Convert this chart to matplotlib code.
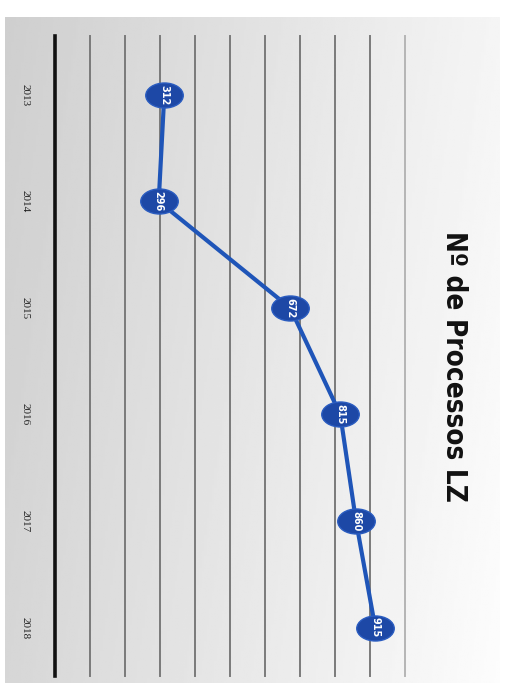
import numpy as np
import matplotlib
matplotlib.use('Agg')
import matplotlib.pyplot as plt
from matplotlib.path import Path
from matplotlib.transforms import Affine2D

years = [2013, 2014, 2015, 2016, 2017, 2018]
values = [312, 296, 672, 815, 860, 915]
title = 'Nº de Processos LZ'

fig = plt.figure(figsize=(5.10, 6.83), dpi=100)
fig.patch.set_facecolor('white')
ax = fig.add_axes([0.01, 0.0, 0.97, 0.975])

# grey panel with a soft gradient (scan look)
gx = np.linspace(0, 1, 200)
gy = np.linspace(0, 1, 200)
GX, GY = np.meshgrid(gx, gy)
grad = 0.81 + 0.15 * GX + 0.03 * GY
ax.imshow(grad, extent=[0, 1, 0, 1], transform=ax.transAxes, cmap='gray',
          vmin=0, vmax=1, aspect='auto', zorder=0)

ax.set_xlim(-143, 1271)
ax.set_ylim(2018.52, 2012.27)

# gridlines
for v in range(100, 1001, 100):
    c = '#7a7a7a' if v < 1000 else '#b5b5b5'
    ax.plot([v, v], [2012.45, 2018.45], color=c, lw=1.4, zorder=1)
ax.plot([0, 0], [2012.45, 2018.45], color='#111111', lw=2.6, zorder=1)

# line + markers
ell = Path.unit_circle().transformed(Affine2D().scale(1.5, 1.0))
ax.plot(values, years, color='#1f55b8', lw=3, zorder=2)
ax.plot(values, years, ls='none', marker=ell, markersize=27,
        markerfacecolor='#1d48a6', markeredgecolor='#2a5cc0', markeredgewidth=1, zorder=3)
for v, yr in zip(values, years):
    ax.text(v, yr, str(v), rotation=-90, color='white', fontsize=7, fontweight='bold',
            ha='center', va='center', zorder=4)

# year labels
for yr in years:
    ax.text(-85, yr, str(yr), rotation=-90, color='#222222', fontsize=8,
            ha='center', va='center', family=['Liberation Serif', 'DejaVu Serif'])

ax.text(1140, 2015.55, title, rotation=-90, fontsize=20, fontweight='bold',
        fontstretch='condensed', color='#111111', ha='center', va='center',
        family=['DejaVu Sans'])

ax.set_xticks([])
ax.set_yticks([])
for s in ax.spines.values():
    s.set_visible(False)

fig.savefig('out.png', dpi=100)
